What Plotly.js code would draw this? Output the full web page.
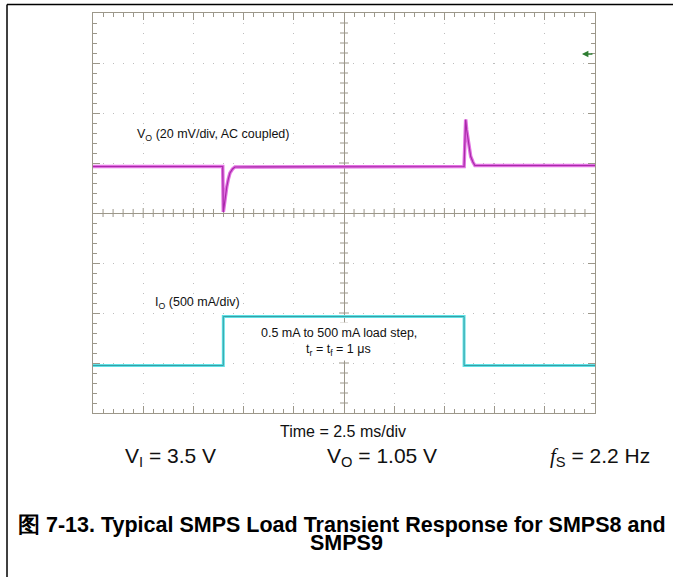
<!DOCTYPE html>
<html>
<head>
<meta charset="utf-8">
<script src="https://cdn.plot.ly/plotly-3.0.1.min.js"></script>
<style>body{margin:0;padding:0;background:#fff;} #chart{width:673px;height:577px;}</style>
</head>
<body>
<div id="chart"></div>
<script>
// Time relative to screen centre, in ms (2.5 ms/div); vertical values in screen divisions
const timeVo = [-12.5, -6.04, -6.01, -5.96, -5.90, -5.84, -5.76, -5.68, -5.55, -5.43, 5.98, 6.02, 6.06, 6.11, 6.19, 6.31, 6.42, 6.52, 12.5];
const vo     = [0.93, 0.93, 0.02, 0.20, 0.40, 0.52, 0.68, 0.80, 0.88, 0.92, 0.93, 1.75, 1.87, 1.66, 1.40, 1.13, 1.02, 0.95, 0.95];
const timeIo = [-12.5, -6.01, -6.01, 5.98, 5.98, 12.5];
const io     = [-3.05, -3.05, -2.07, -2.07, -3.05, -3.05];

const FONT = "'Liberation Sans', Arial, sans-serif";
const frameColor = '#9c978a';

const traces = [
  {x: timeIo, y: io, mode: 'lines', line: {color: '#5fe3e6', width: 3}, hoverinfo: 'skip'},
  {x: timeIo, y: io, mode: 'lines', line: {color: '#3a9ea6', width: 1}, hoverinfo: 'skip'},
  {x: timeVo, y: vo, mode: 'lines', line: {color: '#e271e2', width: 3.5}, hoverinfo: 'skip'},
  {x: timeVo, y: vo, mode: 'lines', line: {color: '#a92aa9', width: 1.2}, hoverinfo: 'skip'}
];

const shapes = [];
// centre-line tick marks
for (let i = -25; i <= 25; i++) {
  if (i === 0 || Math.abs(i) === 25) continue;
  const len = (i % 5 === 0) ? 5 : 4;
  shapes.push({type: 'line', xref: 'x', yref: 'y', layer: 'below', x0: i * 0.5, x1: i * 0.5, ysizemode: 'pixel', yanchor: 0, y0: -len, y1: len, line: {color: frameColor, width: 1}});
}
for (let j = -20; j <= 20; j++) {
  if (j === 0 || Math.abs(j) === 20) continue;
  const len = (j % 5 === 0) ? 5 : 4;
  shapes.push({type: 'line', xref: 'x', yref: 'y', layer: 'below', y0: j * 0.2, y1: j * 0.2, xsizemode: 'pixel', xanchor: 0, x0: -len, x1: len, line: {color: frameColor, width: 1}});
}
// page border lines (top and left)
shapes.push({type: 'line', xref: 'paper', yref: 'paper', x0: -0.1713, x1: 1.16, y0: 1.0212, y1: 1.0212, line: {color: '#000', width: 1.5}});
shapes.push({type: 'line', xref: 'paper', yref: 'paper', x0: -0.1713, x1: -0.1713, y0: 1.0212, y1: -0.42, line: {color: '#000', width: 1.5}});

const annotations = [
  {xref: 'x', yref: 'y', x: -10.41, y: 1.56, xanchor: 'left', yanchor: 'middle', showarrow: false,
   text: 'V<sub>O</sub> (20 mV/div, AC coupled)', font: {family: FONT, size: 12.5, color: '#111'}},
  {xref: 'x', yref: 'y', x: -9.51, y: -1.80, xanchor: 'left', yanchor: 'middle', showarrow: false,
   text: 'I<sub>O</sub> (500 mA/div)', font: {family: FONT, size: 12.5, color: '#111'}},
  {xref: 'x', yref: 'y', x: -0.27, y: -2.40, xanchor: 'center', yanchor: 'middle', showarrow: false, bgcolor: '#ffffff', borderpad: 3,
   text: '0.5 mA to 500 mA load step,', font: {family: FONT, size: 12.5, color: '#111'}},
  {xref: 'x', yref: 'y', x: -0.27, y: -2.74, xanchor: 'center', yanchor: 'middle', showarrow: false, bgcolor: '#ffffff', borderpad: 2,
   text: 't<sub>r</sub> = t<sub>f</sub> = 1 μs', font: {family: FONT, size: 12.5, color: '#111'}},
  // trigger level marker
  {xref: 'x', yref: 'y', x: 11.85, y: 3.18, ax: 12, ay: 0, showarrow: true, text: '', arrowhead: 2, arrowsize: 0.8,
   arrowwidth: 1.6, arrowcolor: '#2e7d32'},
  {xref: 'paper', yref: 'paper', x: 0.498, y: -0.045, xanchor: 'center', yanchor: 'middle', showarrow: false,
   text: 'Time = 2.5 ms/div', font: {family: FONT, size: 16, color: '#111'}},
  {xref: 'paper', yref: 'paper', x: 0.155, y: -0.11, xanchor: 'center', yanchor: 'middle', showarrow: false,
   text: 'V<sub>I</sub> = 3.5 V', font: {family: FONT, size: 21, color: '#111'}},
  {xref: 'paper', yref: 'paper', x: 0.575, y: -0.11, xanchor: 'center', yanchor: 'middle', showarrow: false,
   text: 'V<sub>O</sub> = 1.05 V', font: {family: FONT, size: 21, color: '#111'}},
  {xref: 'paper', yref: 'paper', x: 1.01, y: -0.11, xanchor: 'center', yanchor: 'middle', showarrow: false,
   text: "<i style=\"font-family:'Liberation Serif'\">f</i><sub>S</sub> = 2.2 Hz", font: {family: FONT, size: 21, color: '#111'}},
  {xref: 'paper', yref: 'paper', x: 0.496, y: -0.28, xanchor: 'center', yanchor: 'middle', showarrow: false,
   text: '<b>图 7-13. Typical SMPS Load Transient Response for SMPS8 and</b>', font: {family: FONT, size: 21.5, color: '#000'}},
  {xref: 'paper', yref: 'paper', x: 0.504, y: -0.325, xanchor: 'center', yanchor: 'middle', showarrow: false,
   text: '<b>SMPS9</b>', font: {family: FONT, size: 21.5, color: '#000'}}
];

const axisCommon = {
  showticklabels: false, ticks: 'inside', tickcolor: frameColor, tickwidth: 1,
  showline: true, linecolor: frameColor, linewidth: 1, mirror: 'allticks',
  showgrid: true, gridcolor: '#bdbdbd', gridwidth: 1, griddash: '1px,9px',
  zeroline: true, zerolinecolor: frameColor, zerolinewidth: 1, fixedrange: true
};

const layout = {
  width: 673, height: 577,
  margin: {l: 93, r: 78, t: 13, b: 164, pad: 0},
  paper_bgcolor: '#ffffff', plot_bgcolor: '#ffffff',
  showlegend: false,
  xaxis: Object.assign({}, axisCommon, {range: [-12.5, 12.5], tickmode: 'linear', tick0: 0, dtick: 2.5, ticklen: 7,
    minor: {dtick: 0.5, tick0: 0, ticks: 'inside', ticklen: 4, tickcolor: frameColor, showgrid: false}}),
  yaxis: Object.assign({}, axisCommon, {range: [-4, 4], tickmode: 'linear', tick0: 0, dtick: 1, ticklen: 7,
    minor: {dtick: 0.2, tick0: 0, ticks: 'inside', ticklen: 4, tickcolor: frameColor, showgrid: false}}),
  shapes: shapes,
  annotations: annotations
};

Plotly.newPlot('chart', traces, layout, {staticPlot: true, displayModeBar: false});
</script>
</body>
</html>
